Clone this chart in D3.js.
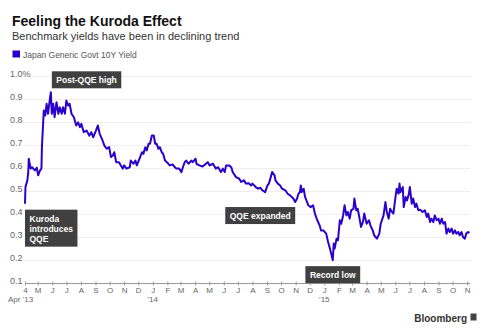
<!DOCTYPE html>
<html>
<head>
<meta charset="utf-8">
<script src="https://cdn.jsdelivr.net/npm/d3@7/dist/d3.min.js"></script>
<style>
body { margin: 0; background: #fff; }
text { font-family: "Liberation Sans", Arial, sans-serif; }
</style>
</head>
<body>
<div id="chart"></div>
<script>
// 10Y JGB yield (roughly twice a week)
var dates = [
"2013-04-04","2013-04-05","2013-04-09","2013-04-11","2013-04-12","2013-04-16","2013-04-19","2013-04-25","2013-04-29","2013-05-02",
"2013-05-06","2013-05-09","2013-05-10","2013-05-14","2013-05-17","2013-05-20","2013-05-23","2013-05-27","2013-05-29","2013-05-31",
"2013-06-03","2013-06-06","2013-06-10","2013-06-14","2013-06-17","2013-06-21","2013-06-24","2013-06-28","2013-07-01","2013-07-05",
"2013-07-08","2013-07-12","2013-07-17","2013-07-22","2013-07-26","2013-07-30","2013-08-02","2013-08-07","2013-08-13","2013-08-19",
"2013-08-23","2013-08-27","2013-09-02","2013-09-06","2013-09-10","2013-09-16","2013-09-20","2013-09-25","2013-09-30","2013-10-04",
"2013-10-08","2013-10-11","2013-10-15","2013-10-21","2013-10-25","2013-10-29","2013-11-01","2013-11-06","2013-11-13","2013-11-15",
"2013-11-21","2013-11-25","2013-11-28","2013-12-05","2013-12-09","2013-12-12","2013-12-16","2013-12-19","2013-12-23","2013-12-26",
"2013-12-30","2014-01-03","2014-01-06","2014-01-09","2014-01-13","2014-01-16","2014-01-20","2014-01-23","2014-01-27","2014-01-31",
"2014-02-06","2014-02-12","2014-02-17","2014-02-20","2014-02-26","2014-03-03","2014-03-06","2014-03-10","2014-03-13","2014-03-18",
"2014-03-24","2014-03-27","2014-04-02","2014-04-04","2014-04-10","2014-04-17","2014-04-24","2014-04-28","2014-05-02","2014-05-09",
"2014-05-15","2014-05-20","2014-05-26","2014-05-30","2014-06-03","2014-06-06","2014-06-12","2014-06-17","2014-06-20","2014-06-27",
"2014-07-04","2014-07-08","2014-07-14","2014-07-18","2014-07-24","2014-07-29","2014-08-01","2014-08-08","2014-08-13","2014-08-18",
"2014-08-22","2014-08-28","2014-09-02","2014-09-05","2014-09-09","2014-09-12","2014-09-17","2014-09-19","2014-09-24","2014-09-29",
"2014-10-03","2014-10-10","2014-10-15","2014-10-20","2014-10-27","2014-10-31","2014-11-04","2014-11-07","2014-11-10","2014-11-12",
"2014-11-14","2014-11-18","2014-11-21","2014-11-28","2014-12-03","2014-12-08","2014-12-12","2014-12-17","2014-12-22","2014-12-25",
"2014-12-30","2015-01-05","2015-01-09","2015-01-13","2015-01-19","2015-01-21","2015-01-23","2015-01-27","2015-01-30","2015-02-03",
"2015-02-06","2015-02-10","2015-02-13","2015-02-17","2015-02-20","2015-02-24","2015-02-27","2015-03-04","2015-03-06","2015-03-10",
"2015-03-13","2015-03-17","2015-03-20","2015-03-24","2015-03-27","2015-04-01","2015-04-06","2015-04-09","2015-04-14","2015-04-17",
"2015-04-23","2015-04-28","2015-05-01","2015-05-07","2015-05-11","2015-05-14","2015-05-18","2015-05-21","2015-05-25","2015-05-28",
"2015-06-01","2015-06-04","2015-06-08","2015-06-10","2015-06-12","2015-06-17","2015-06-19","2015-06-23","2015-06-26","2015-06-30",
"2015-07-02","2015-07-06","2015-07-09","2015-07-13","2015-07-16","2015-07-20","2015-07-24","2015-07-29","2015-08-03","2015-08-07",
"2015-08-10","2015-08-14","2015-08-17","2015-08-21","2015-08-24","2015-08-28","2015-09-01","2015-09-04","2015-09-08","2015-09-11",
"2015-09-15","2015-09-18","2015-09-22","2015-09-25","2015-09-29","2015-10-02","2015-10-06","2015-10-09","2015-10-13","2015-10-16",
"2015-10-20","2015-10-23","2015-10-27","2015-10-30","2015-11-03","2015-11-06"
];
var yields = [
0.445,0.517,0.546,0.582,0.640,0.597,0.603,0.589,0.601,0.568,
0.589,0.597,0.690,0.849,0.827,0.878,0.835,0.900,0.928,0.835,
0.878,0.820,0.885,0.835,0.863,0.835,0.863,0.835,0.892,0.870,
0.878,0.835,0.820,0.784,0.798,0.777,0.791,0.755,0.762,0.740,
0.755,0.733,0.762,0.784,0.748,0.719,0.697,0.683,0.690,0.647,
0.654,0.668,0.625,0.625,0.611,0.597,0.611,0.597,0.603,0.632,
0.618,0.632,0.611,0.647,0.668,0.661,0.690,0.676,0.705,0.705,
0.741,0.741,0.705,0.705,0.683,0.690,0.668,0.661,0.632,0.625,
0.611,0.615,0.603,0.597,0.597,0.582,0.603,0.625,0.632,0.618,
0.632,0.625,0.640,0.618,0.611,0.606,0.618,0.625,0.611,0.618,
0.597,0.603,0.582,0.597,0.582,0.611,0.611,0.603,0.582,0.560,
0.553,0.539,0.546,0.532,0.534,0.524,0.532,0.517,0.510,0.514,
0.503,0.495,0.524,0.532,0.560,0.582,0.568,0.546,0.532,0.524,
0.510,0.503,0.488,0.481,0.467,0.452,0.467,0.488,0.495,0.524,
0.495,0.510,0.474,0.438,0.430,0.438,0.402,0.373,0.351,0.329,
0.329,0.315,0.279,0.250,0.200,0.272,0.250,0.293,0.286,0.373,
0.358,0.394,0.438,0.394,0.409,0.380,0.416,0.423,0.467,0.416,
0.423,0.380,0.344,0.365,0.402,0.358,0.373,0.351,0.329,0.308,
0.293,0.315,0.358,0.394,0.452,0.409,0.380,0.423,0.409,0.402,
0.467,0.510,0.488,0.532,0.495,0.517,0.430,0.474,0.459,0.488,
0.517,0.445,0.467,0.430,0.445,0.416,0.419,0.409,0.416,0.387,
0.402,0.365,0.380,0.365,0.394,0.373,0.380,0.358,0.380,0.358,
0.365,0.315,0.337,0.322,0.337,0.315,0.329,0.315,0.322,0.308,
0.322,0.300,0.293,0.315,0.322,0.318
];
var yTicks = [0.1, 0.2, 0.3, 0.4, 0.5, 0.6, 0.7, 0.8, 0.9, 1.0];
var monthLabels = ["J","F","M","A","M","J","J","A","S","O","N","D"];
var noteDates = ["2013-05-29", "2013-04-04", "2014-10-31", "2015-01-19"];
var noteTexts = [["Post-QQE high"], ["Kuroda", "introduces", "QQE"], ["QQE expanded"], ["Record low"]];
var notePlace = ["aboveRight", "belowRight", "belowLeft", "belowCenter"];

var W = 488, H = 333;
var parse = d3.timeParse("%Y-%m-%d");
var data = dates.map(function(d, i){ return {date: parse(d), value: yields[i]}; });

var svg = d3.select("#chart").append("svg")
	.attr("width", W)
	.attr("height", H);

var x = d3.scaleTime()
	.domain([parse("2013-04-04"), parse("2015-11-07")])
	.range([25, 470]);
var y = d3.scaleLinear()
	.domain([0.1, 1.0])
	.range([283.2, 75.7]);

// title block
svg.append("text").attr("x", 12).attr("y", 26)
	.style("font-size", "14px").style("font-weight", "bold").style("fill", "#111")
	.text("Feeling the Kuroda Effect");
svg.append("text").attr("x", 12).attr("y", 40)
	.style("font-size", "11px").style("fill", "#333")
	.text("Benchmark yields have been in declining trend");
svg.append("rect").attr("x", 12.5).attr("y", 50.5).attr("width", 7.5).attr("height", 7)
	.style("fill", "#2a00cc");
svg.append("text").attr("x", 23).attr("y", 57.5)
	.style("font-size", "8.5px").style("fill", "#555")
	.text("Japan Generic Govt 10Y Yield");

// gridlines + y labels
svg.selectAll(".grid").data(yTicks.slice(1)).enter().append("line")
	.attr("class", "grid")
	.attr("x1", 25).attr("x2", 470)
	.attr("y1", function(d){ return Math.round(y(d)) + 0.5; })
	.attr("y2", function(d){ return Math.round(y(d)) + 0.5; })
	.style("stroke", "#eeeeee").style("stroke-width", 1);

svg.selectAll(".ylab").data(yTicks).enter().append("text")
	.attr("class", "ylab")
	.attr("x", 10)
	.attr("y", function(d){ return y(d) + 1; })
	.style("font-size", "9px").style("fill", "#666")
	.text(function(d){ return d == 1.0 ? "1.0%" : d.toFixed(1); });

// x axis
var monthTicks = d3.timeMonth.range(parse("2013-05-01"), parse("2015-11-02"));
var xTicks = [parse("2013-04-04")].concat(monthTicks);
var xAxis = d3.axisBottom(x)
	.tickValues(xTicks)
	.tickSize(3)
	.tickFormat(function(d, i){ return i == 0 ? "4" : monthLabels[d.getMonth()]; });

var ax = svg.append("g")
	.attr("transform", "translate(0," + (Math.round(y(0.1)) + 0.5) + ")")
	.call(xAxis);
ax.select(".domain").attr("d", "M25,0H470").style("stroke", "#999");
ax.selectAll(".tick line").attr("y1", -2).attr("y2", 2).style("stroke", "#999");
ax.selectAll(".tick text").attr("y", 9).attr("dy", null)
	.style("font-family", "Liberation Sans, Arial, sans-serif").style("font-size", "8px").style("fill", "#666");

// year labels under first tick and January ticks
var yearTicks = xTicks.filter(function(d, i){ return i == 0 || d.getMonth() == 0; });
svg.selectAll(".yr").data(yearTicks).enter().append("text")
	.attr("class", "yr")
	.attr("x", function(d){ return x(d); })
	.attr("y", 302)
	.attr("text-anchor", "middle")
	.style("font-size", "8px").style("fill", "#666")
	.text(function(d, i){ return i == 0 ? "Apr '13" : "'" + d3.timeFormat("%y")(d); });
svg.select(".yr").attr("text-anchor", "start").attr("x", 8);

// the line
var line = d3.line()
	.x(function(d){ return x(d.date); })
	.y(function(d){ return y(d.value); });
svg.append("path").datum(data)
	.attr("d", line)
	.style("fill", "none")
	.style("stroke", "#2a00cc")
	.style("stroke-width", 2)
	.style("stroke-linejoin", "round");

// annotation boxes
var k;
for (k = 0; k < noteDates.length; k++){
	var pd = parse(noteDates[k]);
	var pv = data.filter(function(d){ return +d.date == +pd; })[0].value;
	var px = x(pd), py = y(pv);
	var g = svg.append("g");
	var lines = noteTexts[k];
	var tw = 0;
	var t = [];
	var j;
	for (j = 0; j < lines.length; j++){
		var tt = g.append("text")
			.style("font-size", "8.5px").style("font-weight", "bold").style("fill", "#fff")
			.text(lines[j]);
		tw = Math.max(tw, tt.node().getComputedTextLength());
		t.push(tt);
	}
	var bw = tw + 9, bh = lines.length * 10 + 7;
	var bx, by;
	if (notePlace[k] == "aboveRight"){ bx = px + 1; by = py - 4 - bh; }
	if (notePlace[k] == "belowRight"){ bx = px; by = py + 6; }
	if (notePlace[k] == "belowLeft"){ bx = px - bw; by = py + 5; }
	if (notePlace[k] == "belowCenter"){ bx = px - bw / 2; by = py + 6; }
	g.insert("rect", "text")
		.attr("x", bx).attr("y", by).attr("width", bw).attr("height", bh)
		.style("fill", "#404040");
	for (j = 0; j < t.length; j++){
		t[j].attr("x", bx + 4.5).attr("y", by + 12 + j * 10);
	}
}

// source mark
svg.append("text").attr("x", 467).attr("y", 321.5)
	.attr("text-anchor", "end")
	.style("font-size", "10px").style("font-weight", "bold").style("fill", "#333")
	.text("Bloomberg");
svg.append("rect").attr("x", 470.5).attr("y", 313.5).attr("width", 6).attr("height", 7)
	.style("fill", "#444");
</script>
</body>
</html>
